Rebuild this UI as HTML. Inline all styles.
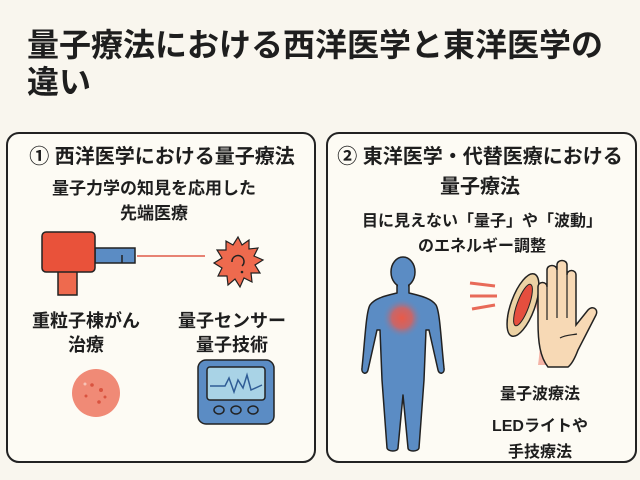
<!DOCTYPE html>
<html><head><meta charset="utf-8"><style>
html,body{margin:0;padding:0;background:#f9f6ee;}
svg{display:block;}
text{font-family:"Liberation Sans","Noto Sans CJK JP",sans-serif;font-weight:bold;fill:#1e1e1e;}
</style></head><body>
<svg width="640" height="480" viewBox="0 0 640 480">
<rect width="640" height="480" fill="#f9f6ee"/>
<text x="27" y="56" font-size="32">量子療法における西洋医学と東洋医学の</text>
<text x="27" y="93" font-size="32">違い</text>

<rect x="7" y="133" width="308" height="329" rx="12" fill="#fdfbf4" stroke="#222" stroke-width="2"/>
<rect x="327" y="133" width="309" height="329" rx="12" fill="#fdfbf4" stroke="#222" stroke-width="2"/>

<g text-anchor="middle">
<text x="162" y="163" font-size="20">① 西洋医学における量子療法</text>
<text x="154" y="194" font-size="17">量子力学の知見を応用した</text>
<text x="154" y="219" font-size="17">先端医療</text>
<text x="86" y="327" font-size="18">重粒子棟がん</text>
<text x="86" y="351" font-size="18">治療</text>
<text x="232" y="327" font-size="18">量子センサー</text>
<text x="232" y="351" font-size="18">量子技術</text>

<text x="480" y="163" font-size="20">② 東洋医学・代替医療における</text>
<text x="480" y="193" font-size="20">量子療法</text>
<text x="482" y="226" font-size="16">目に見えない「量子」や「波動」</text>
<text x="482" y="251" font-size="16">のエネルギー調整</text>
<text x="540" y="399" font-size="16">量子波療法</text>
<text x="540" y="431" font-size="16">LEDライトや</text>
<text x="540" y="457" font-size="16">手技療法</text>
</g>

<!-- device -->
<rect x="58" y="270" width="19" height="25" fill="#ee6a4e" stroke="#222" stroke-width="1.5"/>
<rect x="95" y="248" width="40" height="15" fill="#5b8cc4" stroke="#222" stroke-width="1.5"/>
<line x1="122" y1="255" x2="122" y2="263" stroke="#222" stroke-width="1.5"/>
<rect x="42" y="232" width="53" height="40" rx="4" fill="#e9523a" stroke="#222" stroke-width="1.5"/>
<line x1="137" y1="256" x2="205" y2="256" stroke="#e05a48" stroke-width="1.5"/>
<polygon points="238,237 242,245 249,240 249,249 258,248 254,256 263,260 255,265 260,273 251,273 252,282 244,278 240,287 235,279 228,285 227,276 218,276 222,268 214,263 222,258 217,250 226,250 226,241 233,245" fill="#ee6a4e" stroke="#222" stroke-width="1.2"/>
<path d="M232,262 a6,6 0 1 1 10,4" fill="none" stroke="#222" stroke-width="1.5"/>
<circle cx="242" cy="272" r="1.3" fill="#222"/>

<circle cx="96" cy="393" r="24" fill="#f08a76"/>
<circle cx="92" cy="385" r="1.8" fill="#d9533f"/><circle cx="101" cy="390" r="2" fill="#d9533f"/>
<circle cx="86" cy="396" r="1.5" fill="#d9533f"/><circle cx="99" cy="402" r="1.8" fill="#d9533f"/>
<circle cx="105" cy="397" r="1.5" fill="#d9533f"/><circle cx="85" cy="384" r="1.5" fill="#f7c3b6"/>

<rect x="198" y="360" width="76" height="64" rx="8" fill="#5b8cc4" stroke="#222" stroke-width="1.5"/>
<rect x="207" y="367" width="58" height="33" rx="3" fill="#a9d3e6" stroke="#222" stroke-width="1.5"/>
<polyline points="210,386 225,386 229,378 234,392 238,380 243,388 247,375 251,390 262,385" fill="none" stroke="#2f5c95" stroke-width="1.5"/>
<ellipse cx="219" cy="410" rx="5" ry="4" fill="none" stroke="#222" stroke-width="1.5"/>
<ellipse cx="236" cy="410" rx="5" ry="4" fill="none" stroke="#222" stroke-width="1.5"/>
<ellipse cx="253" cy="410" rx="5" ry="4" fill="none" stroke="#222" stroke-width="1.5"/>

<!-- body -->
<defs><radialGradient id="g"><stop offset="0" stop-color="#e95a48"/><stop offset="0.5" stop-color="#e05e55" stop-opacity="0.8"/><stop offset="1" stop-color="#5b8cc4" stop-opacity="0"/></radialGradient></defs>
<path d="M397,283 L397,293 C385,296 375,298 370,305 C366,312 365,340 362,368 C361,374 367,375 368,370 L377,330 L380,330 L382,380 L387,448 C388,452 398,452 398,448 L403,395 L408,448 C408,452 418,452 419,448 L424,380 L426,330 L429,330 L438,370 C439,375 445,374 444,368 C441,340 440,312 436,305 C431,298 421,296 409,293 L409,283 Z" fill="#5b8cc4" stroke="#222" stroke-width="1.5" stroke-linejoin="round"/>
<ellipse cx="403" cy="272" rx="12" ry="15" fill="#5b8cc4" stroke="#222" stroke-width="1.5"/>
<rect x="398" y="283" width="10" height="8" fill="#5b8cc4"/>
<circle cx="402" cy="318" r="20" fill="url(#g)"/>

<!-- hand -->
<line x1="470" y1="283" x2="495" y2="286" stroke="#e86a58" stroke-width="3"/>
<line x1="470" y1="296" x2="497" y2="296" stroke="#e86a58" stroke-width="3"/>
<line x1="472" y1="309" x2="495" y2="305" stroke="#e86a58" stroke-width="3"/>
<path d="M530,290 c10,20 12,50 8,75 l18,0 c-10,-30 -10,-60 -26,-75z" fill="#f4b3a6"/>
<ellipse cx="523" cy="305" rx="12" ry="33" transform="rotate(20 523 305)" fill="#ecd2a4" stroke="#222" stroke-width="1.5"/>
<ellipse cx="523" cy="305" rx="6" ry="22" transform="rotate(20 523 305)" fill="#e54e3e" stroke="#222" stroke-width="1"/>
<path d="M548,367 c-8,-10 -10,-25 -10,-45 l0,-35 c0,-6 9,-6 9,0 l0,-17 c0,-6 10,-6 10,0 l0,-5 c0,-6 10,-6 10,0 l0,10 c0,-6 9,-6 9,0 l0,50 l12,-15 c4,-5 11,-1 8,5 l-18,35 c-3,8 -6,14 -10,17z" fill="#f7d9b5" stroke="#222" stroke-width="1.5"/>
<line x1="547" y1="287" x2="547" y2="320" stroke="#222" stroke-width="1.2"/>
<line x1="557" y1="270" x2="557" y2="318" stroke="#222" stroke-width="1.2"/>
<line x1="567" y1="275" x2="567" y2="318" stroke="#222" stroke-width="1.2"/>
<path d="M560,338 c5,-3 12,-3 17,-4" fill="none" stroke="#222" stroke-width="1.2"/>
</svg>
</body></html>
